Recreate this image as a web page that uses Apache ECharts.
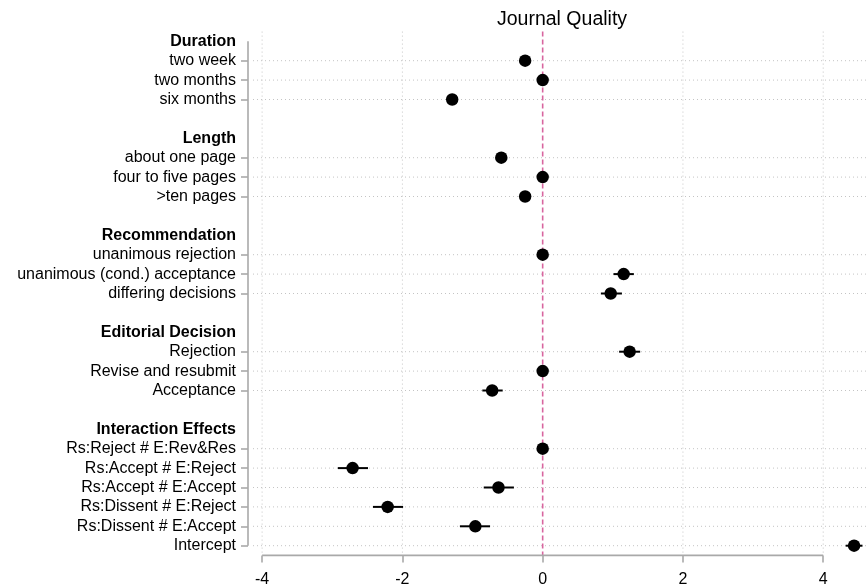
<!DOCTYPE html>
<html>
<head>
<meta charset="utf-8">
<title>Journal Quality</title>
<script src="https://cdn.jsdelivr.net/npm/echarts@6/dist/echarts.min.js"></script>
<style>
  html, body { margin: 0; padding: 0; background: #fff; }
  #chart { width: 866px; height: 588px; }
</style>
</head>
<body>
<div id="chart"></div>
<script>
// Row labels, top to bottom (blank strings are spacer rows between groups)
const rowLabels = [
  'Duration', 'two week', 'two months', 'six months', ' ',
  'Length', 'about one page', 'four to five pages', '>ten pages', '  ',
  'Recommendation', 'unanimous rejection', 'unanimous (cond.) acceptance', 'differing decisions', '   ',
  'Editorial Decision', 'Rejection', 'Revise and resubmit', 'Acceptance', '    ',
  'Interaction Effects', 'Rs:Reject # E:Rev&Res', 'Rs:Accept # E:Reject', 'Rs:Accept # E:Accept',
  'Rs:Dissent # E:Reject', 'Rs:Dissent # E:Accept', 'Intercept'
];
const groupHeaders = ['Duration', 'Length', 'Recommendation', 'Editorial Decision', 'Interaction Effects'];

// Point estimates and 95% confidence bounds per row (null = no estimate)
const estimates = [
  null, -0.25, 0, -1.29, null,
  null, -0.59, 0, -0.25, null,
  null, 0, 1.155, 0.97, null,
  null, 1.24, 0, -0.72, null,
  null, 0, -2.71, -0.63, -2.21, -0.96, 4.44
];
const ciLow = [
  null, -0.31, null, -1.36, null,
  null, -0.66, null, -0.32, null,
  null, null, 1.01, 0.83, null,
  null, 1.09, null, -0.86, null,
  null, null, -2.92, -0.84, -2.42, -1.18, 4.32
];
const ciHigh = [
  null, -0.19, null, -1.22, null,
  null, -0.52, null, -0.18, null,
  null, null, 1.30, 1.13, null,
  null, 1.39, null, -0.57, null,
  null, null, -2.49, -0.41, -1.99, -0.75, 4.56
];

// X axis ticks
const xTicks = [-4, -2, 0, 2, 4];
const xMin = -4.13;
const xMax = 4.61;

const FONT = '"Liberation Sans", Arial, Helvetica, sans-serif';
const GRID_COLOR = '#c4c4c4';
const AXIS_COLOR = '#a9a9a9';

const pointData = [];
const ciData = [];
estimates.forEach((v, i) => {
  if (v !== null) pointData.push([v, i]);
  if (ciLow[i] !== null && ciHigh[i] !== null) ciData.push([ciLow[i], ciHigh[i], i]);
});
const dataRows = estimates.map((v, i) => (v !== null ? i : -1)).filter(i => i >= 0);

const chart = echarts.init(document.getElementById('chart'), null, { renderer: 'canvas' });

// Gridlines, reference line at zero and the trimmed axis lines
function renderFrame(params, api) {
  const cs = params.coordSys;
  const top = cs.y, bottom = cs.y + cs.height, left = cs.x, right = cs.x + cs.width;
  const children = [];
  xTicks.forEach(t => {
    if (t === 0) return;
    const x = api.coord([t, 0])[0];
    children.push({
      type: 'line',
      shape: { x1: x, y1: top, x2: x, y2: bottom },
      style: { stroke: GRID_COLOR, lineWidth: 1, lineDash: [1, 3] }
    });
  });
  dataRows.forEach(r => {
    const y = api.coord([0, r])[1];
    children.push({
      type: 'line',
      shape: { x1: left, y1: y, x2: right, y2: y },
      style: { stroke: GRID_COLOR, lineWidth: 1, lineDash: [1, 3] }
    });
  });
  const x0 = api.coord([0, 0])[0];
  children.push({
    type: 'line',
    shape: { x1: x0, y1: top, x2: x0, y2: bottom },
    style: { stroke: '#d8659f', lineWidth: 1.6, lineDash: [5, 3] }
  });
  const xa = api.coord([xTicks[0], 0])[0];
  const xb = api.coord([xTicks[xTicks.length - 1], 0])[0];
  children.push({
    type: 'line',
    shape: { x1: xa, y1: bottom, x2: xb, y2: bottom },
    style: { stroke: AXIS_COLOR, lineWidth: 1.6 }
  });
  const ya = api.coord([0, 0])[1];
  const yb = api.coord([0, rowLabels.length - 1])[1];
  children.push({
    type: 'line',
    shape: { x1: left - 5, y1: ya, x2: left - 5, y2: yb },
    style: { stroke: AXIS_COLOR, lineWidth: 1.6 }
  });
  return { type: 'group', children };
}

function renderCI(params, api) {
  const a = api.coord([api.value(0), api.value(2)]);
  const b = api.coord([api.value(1), api.value(2)]);
  return {
    type: 'line',
    shape: { x1: a[0], y1: a[1], x2: b[0], y2: b[1] },
    style: { stroke: '#000', lineWidth: 2 }
  };
}

const option = {
  animation: false,
  backgroundColor: '#fff',
  textStyle: { fontFamily: FONT },
  title: {
    text: 'Journal Quality',
    left: 492,
    top: 5,
    textStyle: { fontFamily: FONT, fontSize: 19.5, fontWeight: 'normal', color: '#000' }
  },
  grid: { left: 253, right: 0, top: 31.6, bottom: 32.6, containLabel: false },
  xAxis: {
    type: 'value',
    min: xMin,
    max: xMax,
    axisLine: { show: false, onZero: false },
    splitLine: { show: false },
    axisTick: { show: true, customValues: xTicks, length: 7, lineStyle: { color: AXIS_COLOR, width: 1.6 } },
    axisLabel: { customValues: xTicks, margin: 16, fontSize: 16, color: '#000', fontFamily: FONT }
  },
  yAxis: {
    type: 'category',
    inverse: true,
    data: rowLabels,
    offset: 5,
    axisLine: { show: false, onZero: false },
    splitLine: { show: false },
    axisTick: {
      show: true,
      alignWithLabel: true,
      length: 7,
      interval: (index) => estimates[index] !== null,
      lineStyle: { color: AXIS_COLOR, width: 1.6 }
    },
    axisLabel: {
      interval: 0,
      margin: 12,
      fontSize: 16,
      color: '#000',
      fontFamily: FONT,
      formatter: (value) => (groupHeaders.indexOf(value) >= 0 ? '{h|' + value + '}' : value),
      rich: { h: { fontWeight: 'bold', fontSize: 16, color: '#000', fontFamily: FONT } }
    }
  },
  series: [
    {
      name: 'frame',
      type: 'custom',
      renderItem: renderFrame,
      data: [[0, 0]],
      clip: false,
      silent: true,
      z: 1
    },
    {
      name: 'ci',
      type: 'custom',
      renderItem: renderCI,
      data: ciData,
      encode: { x: [0, 1], y: 2 },
      clip: false,
      z: 2
    },
    {
      name: 'estimate',
      type: 'scatter',
      data: pointData,
      symbol: 'circle',
      symbolSize: 12.5,
      itemStyle: { color: '#000', opacity: 1 },
      clip: false,
      z: 3
    }
  ]
};

chart.setOption(option);
</script>
</body>
</html>
